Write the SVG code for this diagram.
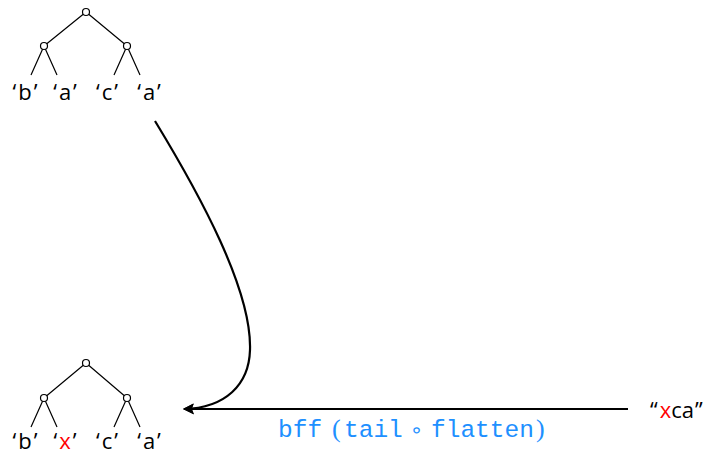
<svg xmlns="http://www.w3.org/2000/svg" width="713" height="456" viewBox="0 0 713 456">
<defs>
<style>
.e{stroke:#000;stroke-width:1.2;fill:none}
.n{fill:#fff;stroke:#000;stroke-width:1.2}
.l{font-family:"Open Sans","DejaVu Sans",sans-serif;font-size:22px;fill:#000;text-anchor:middle;letter-spacing:2px}
.s{font-family:"Open Sans","DejaVu Sans",sans-serif;font-size:22px;fill:#000}
.r{fill:#ff0000}
.c{stroke:#000;stroke-width:2.2;fill:none}
.m{font-family:"Liberation Mono",monospace;font-size:24.5px;fill:#1e90ff}
</style>
<marker id="ah" viewBox="0 0 10 10" refX="9" refY="5" markerWidth="6.5" markerHeight="5" orient="auto" markerUnits="strokeWidth">
<path d="M0,0 L10,5 L0,10 L2,5 z" fill="#000"/>
</marker>
</defs>
<g id="tree1">
<path class="e" d="M86,12 L44,46 M86,12 L127,46 M44,46 L31,75 M44,46 L57,75 M127,46 L114,75 M127,46 L140,75"/>
<circle class="n" cx="86" cy="12" r="3.5"/>
<circle class="n" cx="44" cy="46" r="3.5"/>
<circle class="n" cx="127" cy="46" r="3.5"/>
<text class="l" x="26" y="100">‘b’</text>
<text class="l" x="66" y="100">‘a’</text>
<text class="l" x="108" y="100">‘c’</text>
<text class="l" x="150" y="100">‘a’</text>
</g>
<g id="tree2">
<path class="e" d="M86,363 L44,398 M86,363 L127,398 M44,398 L31,427 M44,398 L57,427 M127,398 L114,427 M127,398 L140,427"/>
<circle class="n" cx="86" cy="363" r="3.5"/>
<circle class="n" cx="44" cy="398" r="3.5"/>
<circle class="n" cx="127" cy="398" r="3.5"/>
<text class="l" x="26" y="449">‘b’</text>
<text class="l" x="66" y="449">‘<tspan class="r">x</tspan>’</text>
<text class="l" x="108" y="449">‘c’</text>
<text class="l" x="150" y="449">‘a’</text>
</g>
<g id="str">
<text class="s" x="650" y="418">“<tspan class="r" dx="2">x</tspan>ca<tspan dx="1">”</tspan></text>
</g>
<g id="connectors">
<path class="c" d="M155,121 C200,195 252,290 250,350 C249,385 225,408 184,409" marker-end="url(#ah)"/>
<path class="c" d="M628,409 L184,409" marker-end="url(#ah)"/>
<text class="m" y="437"><tspan x="278">bff</tspan><tspan x="332" font-family="Liberation Serif,serif" font-size="26">(</tspan><tspan x="344">tail</tspan><tspan x="410" font-family="DejaVu Sans,sans-serif" font-size="21">∘</tspan><tspan x="431">flatten</tspan><tspan x="536" font-family="Liberation Serif,serif" font-size="26">)</tspan></text>
</g>
</svg>
